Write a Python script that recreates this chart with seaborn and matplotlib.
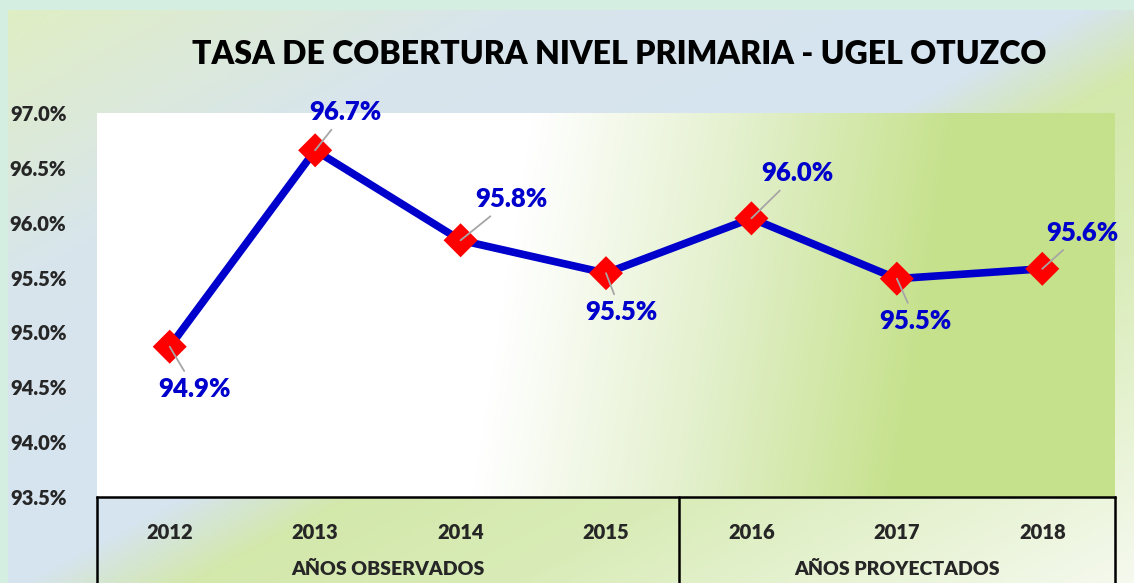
import numpy as np
import pandas as pd
import seaborn as sns
import matplotlib.pyplot as plt
import matplotlib.transforms as mtransforms
from matplotlib.colors import to_rgb

years = ["2012", "2013", "2014", "2015", "2016", "2017", "2018"]
tasa = [94.87, 96.66, 95.84, 95.54, 96.04, 95.49, 95.58]
etiquetas = ["94.9%", "96.7%", "95.8%", "95.5%", "96.0%", "95.5%", "95.6%"]
grupos = ["AÑOS OBSERVADOS", "AÑOS PROYECTADOS"]
y_ticks = [93.5, 94.0, 94.5, 95.0, 95.5, 96.0, 96.5, 97.0]

# label offsets in pixels (dx, dy)
offsets = [(25, -42), (30, 38), (51, 41), (15, -39), (46, 45), (19, -42), (40, 36)]

sns.set_style("white")
plt.rcParams["font.family"] = ["Lato", "DejaVu Sans"]
WEIGHT = "heavy"

W, H = 1134, 583
fig = plt.figure(figsize=(W / 100, H / 100), dpi=100)
fig.patch.set_facecolor("#d4eee2")


def blend(stops, t):
    t = np.clip(t, 0, 1)
    pos = [s[0] for s in stops]
    cols = np.array([to_rgb(s[1]) for s in stops])
    out = np.zeros(t.shape + (3,))
    for c in range(3):
        out[..., c] = np.interp(t, pos, cols[:, c])
    return out


# background gradient of the chart frame
bg = fig.add_axes([8 / W, 0, 1 - 8 / W, 1 - 10 / H])
gx, gy = np.meshgrid(np.linspace(0, 1, 300), np.linspace(0, 1, 160))
u = (gx + 0.94 * gy) / 1.94
bg.imshow(blend([(0, "#e0eec4"), (0.23, "#d8e5ec"), (0.49, "#d6e4f1"), (0.57, "#d3e8ab"),
                 (0.72, "#d9ecb8"), (1.0, "#f5f9ee")], u),
          aspect="auto", extent=[0, 1, 0, 1], origin="upper")
bg.set_axis_off()

ax = fig.add_axes([97 / W, (583 - 497) / H, (1115 - 97) / W, (497 - 113) / H])
ax.set_zorder(2)

# plot area gradient (white -> green)
px, py = np.meshgrid(np.linspace(0, 1, 400), np.linspace(0, 1, 100))
v = (px - 0.43 + 0.06 * (1 - py)) / 0.42
ax.imshow(blend([(0, "#ffffff"), (0.5, "#e3f0cc"), (1, "#c5e18b")], v),
          aspect="auto", extent=[-0.5, 6.5, 93.5, 97.0], origin="lower", zorder=0)

df = pd.DataFrame({"x": np.arange(len(years)), "tasa": tasa})
sns.lineplot(data=df, x="x", y="tasa", color="#0000cc", linewidth=5.5, ax=ax, zorder=3)
sns.scatterplot(data=df, x="x", y="tasa", marker="D", s=300, color="#ff0000",
                edgecolor="none", ax=ax, zorder=4)

for i, (val, lab) in enumerate(zip(tasa, etiquetas)):
    dx, dy = offsets[i]
    ax.annotate(lab, xy=(i, val), xytext=(dx, dy), textcoords="offset pixels",
                ha="center", va="center", fontsize=18.5, fontweight=WEIGHT, color="#0000cc",
                arrowprops=dict(arrowstyle="-", color="#a6a6a6", lw=1.3, shrinkA=2, shrinkB=0),
                zorder=5)

ax.set_xlim(-0.5, 6.5)
ax.set_ylim(93.5, 97.0)
ax.set_yticks(y_ticks)
ax.set_yticklabels([f"{t:.1f}%" for t in y_ticks], fontsize=14.5, fontweight=WEIGHT)
ax.set_xticks(range(len(years)))
ax.set_xticklabels(years, fontsize=14.5, fontweight=WEIGHT)
ax.tick_params(axis="y", length=0, pad=22)
ax.tick_params(axis="x", length=0, pad=19)
ax.set_xlabel("")
ax.set_ylabel("")
for side in ["top", "right", "left"]:
    ax.spines[side].set_visible(False)
ax.spines["bottom"].set_color("black")
ax.spines["bottom"].set_linewidth(1.8)

# table-like separators under the x axis
tr = mtransforms.blended_transform_factory(ax.transData, ax.transAxes)
for xv in [-0.5, 3.5, 6.5]:
    ax.plot([xv, xv], [0, -0.25], transform=tr, color="black", lw=1.8, clip_on=False)
ax.text(1.5, -0.19, grupos[0], transform=tr, ha="center", va="center",
        fontsize=14, fontweight=WEIGHT)
ax.text(5.0, -0.19, grupos[1], transform=tr, ha="center", va="center",
        fontsize=14, fontweight=WEIGHT)

fig.text(619 / W, 1 - 55 / H, "TASA DE COBERTURA NIVEL PRIMARIA - UGEL OTUZCO",
         ha="center", va="center", fontsize=23, fontweight=WEIGHT, color="black")

fig.savefig("out.png", dpi=100, facecolor=fig.get_facecolor())
